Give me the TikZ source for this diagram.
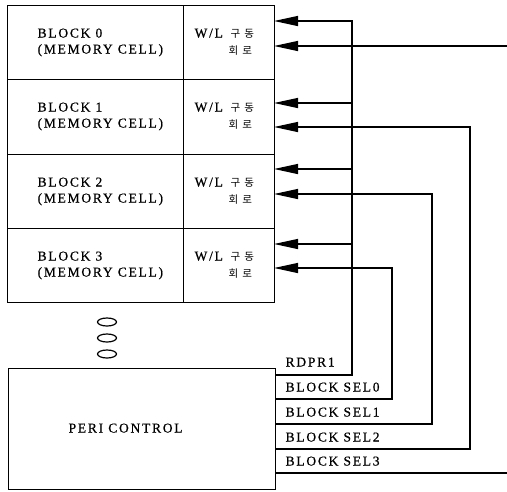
\documentclass[tikz,border=0pt]{standalone}
\usepackage{fontspec}
\setmainfont{Liberation Serif}[LetterSpace=13,FakeBold=0.6]
\newfontfamily\kr{Noto Sans CJK KR}
\usetikzlibrary{arrows.meta,shapes.geometric}
\begin{document}
\begin{tikzpicture}[x=1pt,y=-1pt,line width=1.3pt,
  box/.style={draw,rectangle,inner sep=0,anchor=north west},
  lbl/.style={anchor=base west,inner sep=0,font=\fontsize{13.5}{15}\selectfont},
  kor/.style={anchor=base west,inner sep=0,font=\kr\fontsize{10.5}{12}\selectfont},
  sig/.style={-{Triangle[length=24pt,width=10pt]}},
  dotmark/.style={draw,ellipse,minimum width=19pt,minimum height=8pt,inner sep=0,line width=1.2pt}]
\useasboundingbox (0,0) rectangle (507,491);
% memory blocks
\foreach \i/\t/\h in {0/5/74,1/79/75,2/154/74,3/228/74}{
  \node[box,minimum width=176pt,minimum height=\h pt] (cell\i) at (7,\t) {};
  \node[box,minimum width=91pt,minimum height=\h pt] (wl\i) at (183,\t) {};
  \node[lbl] (bn\i) at (37,\t+32.5) {BLOCK \i};
  \node[lbl] (mc\i) at (37,\t+48.5) {(MEMORY CELL)};
  \node[lbl] (wlt\i) at (194,\t+32.5) {W/L};
  \node[kor] (kt\i) at (230,\t+32) {구\hspace{4pt}동};
  \node[kor] (kb\i) at (228,\t+49) {회\hspace{4pt}로};
}
% dots
\node[dotmark] (e1) at (107,322) {};
\node[dotmark] (e2) at (107,338) {};
\node[dotmark] (e3) at (107,354) {};
% peri control
\node[box,minimum width=267pt,minimum height=121pt] (peri) at (8,368) {};
\node[lbl] (pc) at (68,432.5) {PERI CONTROL};
% signal labels
\node[lbl] (lR) at (285,366.5) {RDPR1};
\node[lbl] (l0) at (285,391.5) {BLOCK SEL0};
\node[lbl] (l1) at (285,416.5) {BLOCK SEL1};
\node[lbl] (l2) at (285,441.5) {BLOCK SEL2};
\node[lbl] (l3) at (285,465.5) {BLOCK SEL3};
% coordinates
\coordinate (a0) at (274,21);
\coordinate (b0) at (274,46);
\coordinate (a1) at (274,103);
\coordinate (b1) at (274,127);
\coordinate (a2) at (274,169);
\coordinate (b2) at (274,194);
\coordinate (a3) at (274,244);
\coordinate (b3) at (274,268);
\coordinate (pR) at (275,375);
\coordinate (p0) at (275,399);
\coordinate (p1) at (275,424);
\coordinate (p2) at (275,449);
\coordinate (p3) at (275,473);
\coordinate (jR0) at (352,21);
\coordinate (jR1) at (352,103);
\coordinate (jR2) at (352,169);
\coordinate (jR3) at (352,244);
\coordinate (j0) at (392,268);
\coordinate (j1) at (432,194);
\coordinate (j2) at (470,127);
\coordinate (inB0) at (507,46);
\coordinate (out3) at (507,473);
% connectors
\draw[sig] (pR) -| (jR0) -- (a0);
\draw[sig] (jR1) -- (a1);
\draw[sig] (jR2) -- (a2);
\draw[sig] (jR3) -- (a3);
\draw[sig] (p0) -| (j0) -- (b3);
\draw[sig] (p1) -| (j1) -- (b2);
\draw[sig] (p2) -| (j2) -- (b1);
\draw[sig] (inB0) -- (b0);
\draw (p3) -- (out3);
\end{tikzpicture}
\end{document}
